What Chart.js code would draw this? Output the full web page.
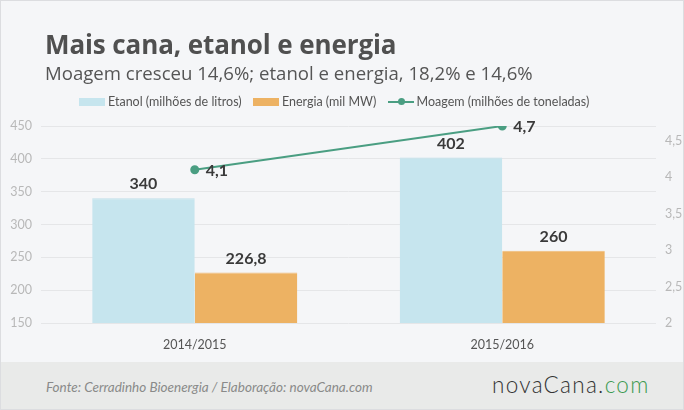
<!DOCTYPE html>
<html>
<head>
<meta charset="utf-8">
<script src="https://cdn.jsdelivr.net/npm/chart.js@4.4.0/dist/chart.umd.min.js"></script>
<style>
  html, body { margin: 0; padding: 0; }
  body { width: 684px; height: 410px; overflow: hidden; font-family: Lato, "Open Sans", sans-serif; }
  #frame { position: relative; width: 682px; height: 408px; border: 1px solid #dcdde0; background: #f5f6f8; }
  #title { position: absolute; left: 44px; top: 25px; font-family: "Open Sans", sans-serif; font-size: 26px; font-weight: 700; color: #505050; letter-spacing: -0.1px; }
  #subtitle { position: absolute; left: 44px; top: 59px; font-family: "Open Sans", sans-serif; font-size: 18.6px; color: #555; letter-spacing: 0; }
  #legend { position: absolute; left: 78px; top: 93px; font-size: 12.5px; color: #555; white-space: nowrap; }
  #legend span.item { display: inline-block; margin-right: 8px; }
  #legend .box { display: inline-block; width: 26px; height: 8px; vertical-align: middle; margin-right: 3px; position: relative; top: -1px; }
  #legend .line { display: inline-block; width: 26px; height: 2px; background: #4a9e82; vertical-align: middle; margin-right: 3px; position: relative; top: -1px; }
  #legend .line::after { content: ""; position: absolute; left: 10px; top: -3px; width: 7px; height: 7px; border-radius: 50%; background: #4a9e82; }
  #chartBox { position: absolute; left: 0; top: -1px; width: 682px; height: 362px; }
  #footer { position: absolute; left: 0; top: 361px; width: 682px; height: 47px; background: #e9eae9; }
  #source { position: absolute; left: 45px; top: 17px; font-size: 13.5px; font-style: italic; color: #8a8a8a; }
  #logo { position: absolute; left: 491px; top: 9px; font-size: 22.5px; font-weight: 300; color: #333; letter-spacing: 1.3px; }
  #logo .com { color: #3d9a52; }
</style>
</head>
<body>
<div id="frame">
  <div id="chartBox"><canvas id="chart"></canvas></div>
  <div id="title">Mais cana, etanol e energia</div>
  <div id="subtitle">Moagem cresceu 14,6%; etanol e energia, 18,2% e 14,6%</div>
  <div id="legend">
    <span class="item"><span class="box" style="background:#c6e5ee"></span>Etanol (milhões de litros)</span>
    <span class="item"><span class="box" style="background:#edb263"></span>Energia (mil MW)</span>
    <span class="item"><span class="line"></span>Moagem (milhões de toneladas)</span>
  </div>
  <div id="footer">
    <div id="source">Fonte: Cerradinho Bioenergia / Elaboração: novaCana.com</div>
    <div id="logo">novaCana.<span class="com">com</span></div>
  </div>
</div>
<script>
const safras = ['2014/2015', '2015/2016'];
const etanol = [340, 402];
const energia = [226.8, 260];
const moagem = [4.1, 4.7];
const leftTicks = [150, 200, 250, 300, 350, 400, 450];
const rightTicks = [2, 2.5, 3, 3.5, 4, 4.5];

const fmt = v => String(v).replace('.', ',');

// rótulos de valores sobre barras e pontos
const valueLabels = {
    id: 'valueLabels',
    afterDatasetsDraw(chart) {
        const ctx = chart.ctx;
        ctx.save();
        ctx.font = 'bold 16px Lato, "Open Sans", sans-serif';
        ctx.fillStyle = '#3a3a3a';
        ctx.textBaseline = 'middle';
        chart.data.datasets.forEach((ds, i) => {
            const meta = chart.getDatasetMeta(i);
            meta.data.forEach((el, j) => {
                const txt = fmt(ds.data[j]);
                if (ds.type === 'line') {
                    ctx.textAlign = 'left';
                    ctx.fillText(txt, el.x + 11, el.y + 1);
                } else {
                    ctx.textAlign = 'center';
                    ctx.fillText(txt, el.x, el.y - 14);
                }
            });
        });
        ctx.restore();
    }
};

new Chart(document.getElementById('chart'), {
    data: {
        labels: safras,
        datasets: [
            {
                type: 'line',
                label: 'Moagem (milhões de toneladas)',
                data: moagem,
                yAxisID: 'y2',
                borderColor: '#4a9e82',
                backgroundColor: '#4a9e82',
                borderWidth: 2,
                pointRadius: 3.5,
                pointHoverRadius: 3.5,
                order: 0
            },
            {
                type: 'bar',
                label: 'Etanol (milhões de litros)',
                data: etanol,
                yAxisID: 'y',
                backgroundColor: '#c6e5ee',
                borderColor: '#bfe0ea',
                borderWidth: { top: 1 },
                categoryPercentage: 0.667,
                barPercentage: 1,
                order: 1
            },
            {
                type: 'bar',
                label: 'Energia (mil MW)',
                data: energia,
                yAxisID: 'y',
                backgroundColor: '#edb263',
                borderColor: '#f0bc78',
                borderWidth: { top: 1 },
                categoryPercentage: 0.667,
                barPercentage: 1,
                order: 1
            }
        ]
    },
    options: {
        responsive: true,
        maintainAspectRatio: false,
        animation: false,
        layout: { padding: { top: 126, bottom: 0, left: 0, right: 0 } },
        plugins: {
            legend: { display: false },
            tooltip: { enabled: false }
        },
        scales: {
            x: {
                grid: { display: false },
                border: { display: false },
                ticks: { color: '#555', font: { size: 12.5, family: 'Lato, "Open Sans", sans-serif' }, padding: 6 },
                afterFit: s => { s.height = 39; }
            },
            y: {
                position: 'left',
                min: 150,
                max: 450,
                afterBuildTicks: s => { s.ticks = leftTicks.map(v => ({ value: v })); },
                grid: { color: '#e5e6e8', lineWidth: 1, drawTicks: false },
                border: { display: false },
                ticks: { color: '#b8b8b8', font: { size: 12.5, family: 'Lato, "Open Sans", sans-serif' }, padding: 9 },
                afterFit: s => { s.width = 40; }
            },
            y2: {
                position: 'right',
                min: 2,
                max: 4.7,
                afterBuildTicks: s => { s.ticks = rightTicks.map(v => ({ value: v })); },
                grid: { display: false, drawTicks: false },
                border: { display: false },
                ticks: { color: '#b8b8b8', font: { size: 12.5, family: 'Lato, "Open Sans", sans-serif' }, padding: 9, callback: v => fmt(v) },
                afterFit: s => { s.width = 27; }
            }
        }
    },
    plugins: [valueLabels]
});
</script>
</body>
</html>
